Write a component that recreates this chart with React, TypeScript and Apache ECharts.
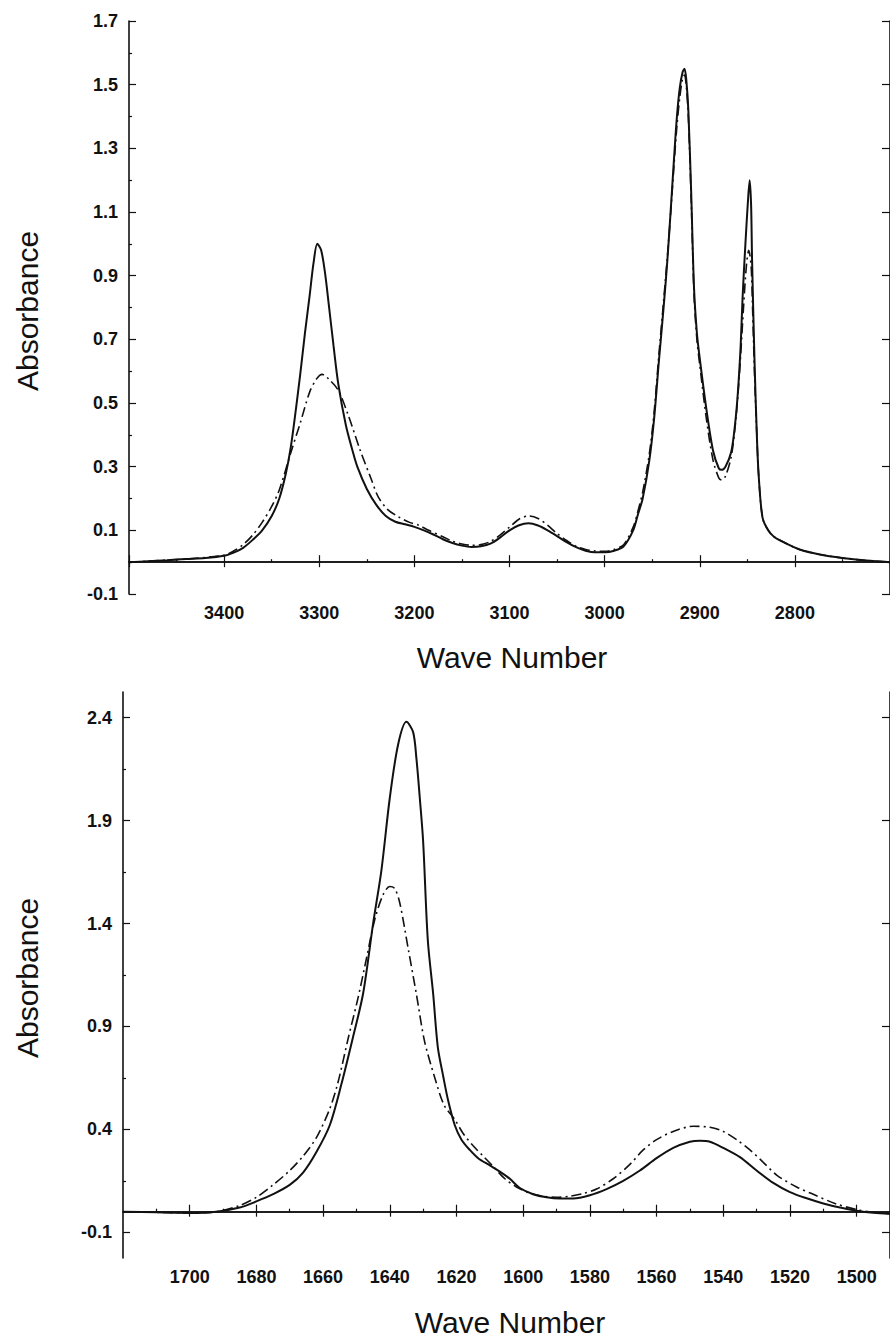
import React, { useEffect, useRef } from "react";
import * as echarts from "echarts";

const FONT = '"Liberation Sans", Arial, Helvetica, sans-serif';

// ---------- top panel (C-H / N-H stretch region) ----------
const topXRange = [2700, 3500];
const topYRange = [-0.1, 1.7];
const topXLabels = [3400, 3300, 3200, 3100, 3000, 2900, 2800];
const topXMajors = [2700, 2800, 2900, 3000, 3100, 3200, 3300, 3400, 3500];
const topYLabels = [-0.1, 0.1, 0.3, 0.5, 0.7, 0.9, 1.1, 1.3, 1.5, 1.7];

const topSolidWave = [
  3500, 3480, 3460, 3440, 3420, 3400, 3390, 3380, 3370, 3360, 3350, 3342, 3335, 3330, 3325, 3320, 3315, 3310,
  3306, 3302, 3298, 3294, 3290, 3285, 3280, 3272, 3265, 3260, 3250, 3240, 3230, 3220, 3210, 3200, 3190, 3180,
  3170, 3160, 3150, 3140, 3130, 3120, 3110, 3100, 3090, 3080, 3070, 3060, 3050, 3040, 3030, 3020, 3010, 3000,
  2990, 2980, 2970, 2965, 2960, 2953, 2948, 2943, 2938, 2934, 2930, 2927, 2924, 2921, 2918, 2916, 2914, 2912,
  2909, 2906, 2903, 2900, 2893, 2886, 2880, 2877, 2873, 2867, 2863, 2860, 2857, 2855, 2852, 2849, 2847.5, 2846,
  2845, 2842.5, 2840, 2838, 2834, 2828, 2822, 2810, 2795, 2775, 2750, 2725, 2700,
];
const topSolidAbs = [
  0.0, 0.003, 0.006, 0.01, 0.013, 0.02, 0.03, 0.045, 0.07, 0.1, 0.145, 0.2, 0.28, 0.36, 0.47, 0.59, 0.72, 0.84,
  0.94, 1.0, 0.98, 0.91, 0.81, 0.68, 0.56, 0.43, 0.35, 0.3, 0.23, 0.18, 0.145, 0.127, 0.119, 0.111, 0.1, 0.087,
  0.072, 0.06, 0.052, 0.048, 0.05, 0.058, 0.077, 0.1, 0.116, 0.122, 0.115, 0.1, 0.082, 0.063, 0.047, 0.036, 0.031, 0.031,
  0.036, 0.05, 0.1, 0.15, 0.2, 0.32, 0.45, 0.63, 0.8, 0.95, 1.13, 1.27, 1.4, 1.49, 1.54, 1.55, 1.51, 1.42,
  1.16, 0.86, 0.72, 0.64, 0.48, 0.35, 0.295, 0.29, 0.3, 0.345, 0.43, 0.53, 0.68, 0.83, 1.0, 1.15, 1.2, 1.12,
  0.95, 0.64, 0.4, 0.27, 0.14, 0.1, 0.08, 0.06, 0.04, 0.025, 0.013, 0.005, 0.0,
];

const topDashWave = [
  3500, 3440, 3400, 3390, 3380, 3370, 3360, 3350, 3342, 3330, 3320, 3310, 3303, 3297, 3290, 3280, 3269, 3257,
  3245, 3238, 3228, 3217, 3205, 3196, 3185, 3170, 3160, 3150, 3140, 3130, 3120, 3110, 3100, 3090, 3080, 3070,
  3060, 3050, 3040, 3030, 3020, 3010, 3000, 2990, 2980, 2970, 2965, 2960, 2953, 2948, 2943, 2938, 2934, 2930,
  2927, 2924, 2921, 2918, 2916, 2914, 2912, 2909, 2906, 2903, 2900, 2893, 2886, 2880, 2877, 2873, 2867, 2863,
  2860, 2857, 2854, 2851, 2848.5, 2846, 2844.5, 2842.5, 2840, 2838, 2834, 2828, 2822, 2810, 2795, 2775, 2750,
  2725, 2700,
];
const topDashAbs = [
  0.0, 0.01, 0.022, 0.035, 0.055, 0.085, 0.125, 0.175, 0.227, 0.343, 0.437, 0.535, 0.575, 0.59, 0.575, 0.54, 0.457, 0.352,
  0.258, 0.205, 0.165, 0.143, 0.125, 0.117, 0.1, 0.08, 0.066, 0.057, 0.053, 0.055, 0.065, 0.085, 0.11, 0.135, 0.145, 0.137,
  0.116, 0.09, 0.068, 0.05, 0.04, 0.035, 0.034, 0.04, 0.055, 0.11, 0.16, 0.22, 0.34, 0.47, 0.65, 0.82, 0.96, 1.12,
  1.25, 1.37, 1.46, 1.52, 1.53, 1.49, 1.4, 1.14, 0.84, 0.7, 0.62, 0.45, 0.32, 0.265, 0.258, 0.27, 0.33, 0.42,
  0.52, 0.65, 0.8, 0.93, 0.98, 0.93, 0.8, 0.6, 0.4, 0.27, 0.14, 0.1, 0.08, 0.06, 0.04, 0.025, 0.013,
  0.005, 0.0,
];

// ---------- bottom panel (amide region) ----------
const botXRange = [1490, 1720];
const botYRange = [-0.225, 2.525];
const botXLabels = [1700, 1680, 1660, 1640, 1620, 1600, 1580, 1560, 1540, 1520, 1500];
const botYLabels = [-0.1, 0.4, 0.9, 1.4, 1.9, 2.4];

const botSolidWave = [
  1720, 1710, 1700, 1692, 1685, 1680, 1675, 1670, 1666, 1662, 1658, 1654.5, 1651, 1648, 1645, 1642.5, 1640,
  1637.5, 1635, 1633, 1632, 1631, 1630, 1628.6, 1627, 1625.6, 1624, 1622.5, 1620.5, 1618.5, 1616, 1613.5,
  1610, 1607, 1604, 1601, 1597, 1593, 1589, 1585, 1580, 1575, 1570, 1565, 1560, 1555, 1550, 1547, 1544,
  1540, 1535, 1530, 1525, 1520, 1515, 1510, 1505, 1500, 1495, 1490,
];
const botSolidAbs = [
  0.0, -0.003, -0.006, 0.0, 0.02, 0.05, 0.085, 0.13, 0.19, 0.29, 0.42, 0.62, 0.85, 1.06, 1.4, 1.66, 2.01,
  2.27, 2.38, 2.33, 2.2, 2.01, 1.8, 1.32, 1.06, 0.8, 0.66, 0.54, 0.42, 0.35, 0.3, 0.26,
  0.225, 0.195, 0.16, 0.115, 0.085, 0.07, 0.064, 0.064, 0.08, 0.11, 0.15, 0.2, 0.26, 0.31, 0.34, 0.345, 0.34,
  0.31, 0.265, 0.2, 0.14, 0.095, 0.065, 0.04, 0.02, 0.005, -0.005, -0.01,
];

const botDashWave = [
  1720, 1710, 1700, 1692, 1685, 1680, 1675, 1670, 1666, 1662, 1658, 1655.5, 1652.5, 1649.5, 1647, 1644.5, 1642,
  1640, 1638.5, 1637, 1634.5, 1632, 1629.6, 1626.6, 1623.7, 1620.6, 1618, 1615, 1612, 1609, 1605.5, 1602, 1598,
  1594, 1590, 1586, 1582, 1578, 1573, 1568, 1564, 1560, 1555, 1549, 1544, 1540, 1536, 1532, 1528, 1524, 1518,
  1513.5, 1506.5, 1500, 1495, 1490,
];
const botDashAbs = [
  0.0, -0.003, -0.006, 0.0, 0.03, 0.07, 0.13, 0.2, 0.27, 0.36, 0.5, 0.63, 0.84, 1.04, 1.23, 1.42, 1.54,
  1.58, 1.57, 1.5, 1.28, 1.055, 0.83, 0.656, 0.517, 0.45, 0.38, 0.32, 0.27, 0.22, 0.16, 0.12, 0.09,
  0.075, 0.07, 0.075, 0.088, 0.11, 0.16, 0.23, 0.3, 0.35, 0.39, 0.415, 0.41, 0.39, 0.35, 0.3, 0.24, 0.178, 0.12,
  0.088, 0.04, 0.01, -0.003, -0.01,
];

function zip(xs: number[], ys: number[]) {
  return xs.map((x, i) => [x, ys[i]]);
}

function minorsOf(majors: number[], step: number, lo: number, hi: number) {
  const out: number[] = [];
  majors.forEach((m) => {
    [m - step / 2, m + step / 2].forEach((v) => {
      const r = Math.round(v * 1000) / 1000;
      if (r > lo + 1e-9 && r < hi - 1e-9 && !out.includes(r) && !majors.includes(r)) out.push(r);
    });
  });
  return out;
}

const BLACK = "#111";

function buildAxes(
  grid: number,
  xr: number[],
  yr: number[],
  xLabels: number[],
  xMajors: number[],
  xStep: number,
  yLabels: number[],
  yStep: number
) {
  const line = { lineStyle: { color: BLACK, width: 1.6 } };
  const tickStyle = { color: BLACK, width: 1.2 };
  const xMinors = minorsOf(xMajors, xStep, xr[0], xr[1]);
  const yMinors = minorsOf(yLabels, yStep, yr[0], yr[1]);
  const baseX = {
    gridIndex: grid,
    type: "value",
    min: xr[0],
    max: xr[1],
    inverse: true,
    splitLine: { show: false },
  };
  const baseY = {
    gridIndex: grid,
    type: "value",
    min: yr[0],
    max: yr[1],
    splitLine: { show: false },
  };
  const xAxes = [
    {
      ...baseX,
      position: "bottom",
      axisLine: { show: true, ...line },
      axisTick: { show: true, inside: true, length: 7, customValues: xMajors, lineStyle: tickStyle },
      axisLabel: {
        show: true,
        customValues: xLabels,
        margin: 10,
        color: BLACK,
        fontFamily: FONT,
        fontSize: 18,
        fontWeight: "bold",
        formatter: (v: number) => String(Math.round(v)),
      },
    },
    {
      ...baseX,
      position: "bottom",
      axisLine: { show: false },
      axisTick: { show: true, inside: true, length: 3, customValues: xMinors, lineStyle: tickStyle },
      axisLabel: { show: false },
    },
    {
      ...baseX,
      position: "top",
      axisLine: { show: true, ...line },
      axisTick: { show: true, inside: true, length: 5, customValues: xMajors, lineStyle: tickStyle },
      axisLabel: { show: false },
    },
  ];
  const yAxes = [
    {
      ...baseY,
      position: "left",
      axisLine: { show: true, ...line },
      axisTick: { show: true, inside: true, length: 7, customValues: yLabels, lineStyle: tickStyle },
      axisLabel: {
        show: true,
        customValues: yLabels,
        margin: 11,
        color: BLACK,
        fontFamily: FONT,
        fontSize: 18,
        fontWeight: "bold",
        formatter: (v: number) => v.toFixed(1),
      },
    },
    {
      ...baseY,
      position: "left",
      axisLine: { show: false },
      axisTick: { show: true, inside: true, length: 3, customValues: yMinors, lineStyle: tickStyle },
      axisLabel: { show: false },
    },
    {
      ...baseY,
      position: "right",
      axisLine: { show: true, ...line },
      axisTick: { show: true, inside: true, length: 8, customValues: yLabels, lineStyle: tickStyle },
      axisLabel: { show: false },
    },
  ];
  return { xAxes, yAxes };
}

export default function App() {
  const ref = useRef<HTMLDivElement>(null);
  useEffect(() => {
    if (!ref.current) return;
    const chart = echarts.init(ref.current, undefined, { renderer: "svg" });
    const top = buildAxes(0, topXRange, topYRange, topXLabels, topXMajors, 100, topYLabels, 0.2);
    const botMajors = botXLabels.slice();
    const bot = buildAxes(1, botXRange, botYRange, botXLabels, botMajors, 20, botYLabels, 0.5);

    const solid = { color: BLACK, width: 2 };
    const dash = { color: BLACK, width: 1.6, type: [10, 4, 2, 4] };
    const mkSeries = (name: string, data: number[][], xi: number, yi: number, ls: any) => ({
      name,
      type: "line",
      xAxisIndex: xi,
      yAxisIndex: yi,
      data,
      showSymbol: false,
      symbol: "none",
      smooth: 0.3,
      lineStyle: ls,
      z: 3,
    });

    const titleStyle = { fontFamily: FONT, fontSize: 30, fill: BLACK };
    chart.setOption({
      animation: false,
      backgroundColor: "#fff",
      grid: [
        { left: 129, top: 21, width: 768, height: 573 },
        { left: 123, top: 692, width: 773, height: 566 },
      ],
      xAxis: [...top.xAxes, ...bot.xAxes],
      yAxis: [...top.yAxes, ...bot.yAxes],
      series: [
        mkSeries("top solid", zip(topSolidWave, topSolidAbs), 0, 0, solid),
        mkSeries("top dash-dot", zip(topDashWave, topDashAbs), 0, 0, dash),
        mkSeries("bottom solid", zip(botSolidWave, botSolidAbs), 3, 3, solid),
        mkSeries("bottom dash-dot", zip(botDashWave, botDashAbs), 3, 3, dash),
      ],
      graphic: [
        {
          type: "text",
          x: 512,
          y: 657,
          style: { ...titleStyle, text: "Wave Number", textAlign: "center", textVerticalAlign: "middle" },
        },
        {
          type: "text",
          x: 510,
          y: 1322,
          style: { ...titleStyle, text: "Wave Number", textAlign: "center", textVerticalAlign: "middle" },
        },
        {
          type: "text",
          x: 27,
          y: 311,
          rotation: Math.PI / 2,
          style: { ...titleStyle, text: "Absorbance", textAlign: "center", textVerticalAlign: "middle" },
        },
        {
          type: "text",
          x: 27,
          y: 978,
          rotation: Math.PI / 2,
          style: { ...titleStyle, text: "Absorbance", textAlign: "center", textVerticalAlign: "middle" },
        },
      ],
    });
    return () => chart.dispose();
  }, []);
  return (
    <div
      ref={ref}
      style={{ position: "absolute", left: 0, top: 0, width: 890, height: 1338, background: "#fff" }}
    />
  );
}
